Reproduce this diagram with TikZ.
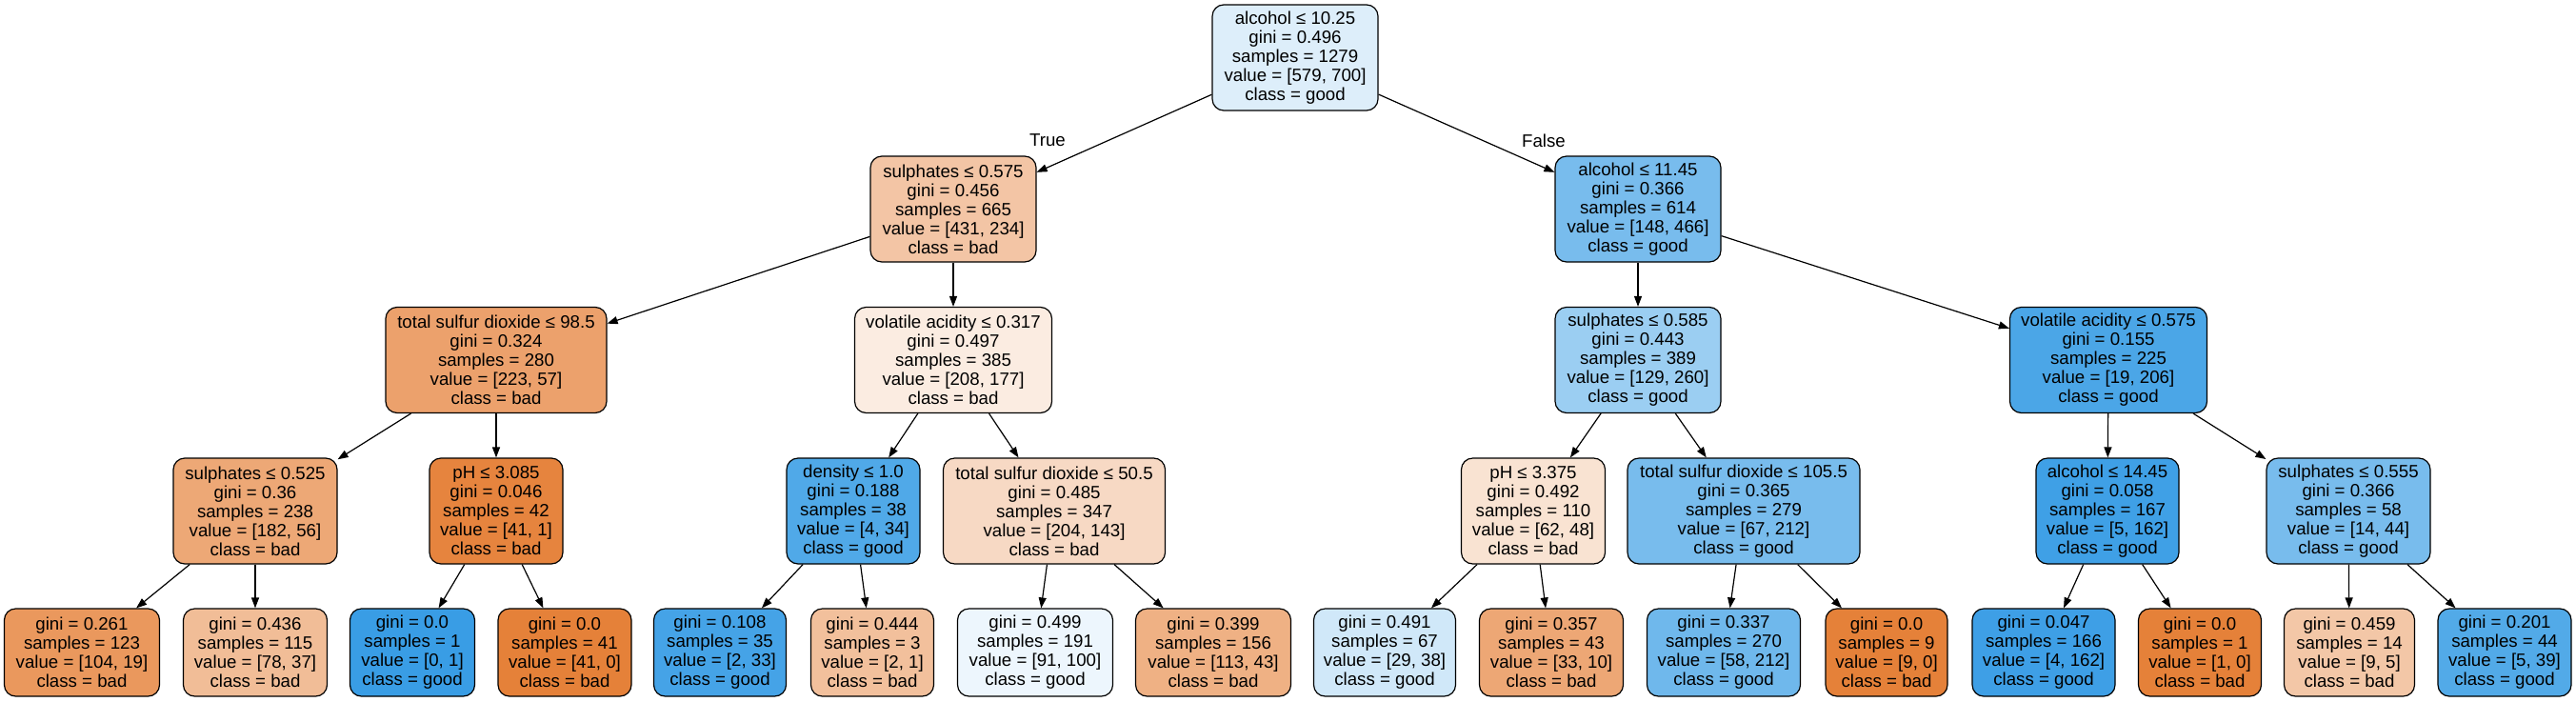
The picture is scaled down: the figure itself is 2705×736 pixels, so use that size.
\documentclass[tikz,border=0pt]{standalone}
\usepackage{fontspec}
\setmainfont{Liberation Sans}
\usetikzlibrary{arrows.meta}
\definecolor{bad}{RGB}{229,129,57}
\definecolor{good}{RGB}{57,157,229}
\tikzset{
  tbox/.style={draw=black, line width=1.2pt, rounded corners=12pt, align=center,
    inner xsep=4pt, inner ysep=0pt, text=black,
    font=\fontsize{18.67}{20}\selectfont},
  inode/.style={tbox, minimum height=111pt},
  leaf/.style={tbox, minimum height=92pt},
  edge/.style={line width=1.2pt, draw=black, -{Triangle[length=11pt,width=8pt]}},
  elabel/.style={font=\fontsize{18.67}{20}\selectfont, inner sep=0pt}
}
\begin{document}
\begin{tikzpicture}[x=1pt,y=-1pt]
\useasboundingbox (0,0) rectangle (2705,736);
\fill[white] (0,0) rectangle (2705,736);
% level 0
\node[inode, fill=good!17.3!white, minimum width=174pt] (n0) at (1360,60.5) {alcohol ≤ 10.25\\gini = 0.496\\samples = 1279\\value = [579, 700]\\class = good};
% level 1
\node[inode, fill=bad!45.7!white, minimum width=174pt] (s575) at (1001,219.5) {sulphates ≤ 0.575\\gini = 0.456\\samples = 665\\value = [431, 234]\\class = bad};
\node[inode, fill=good!68.2!white, minimum width=174pt] (a1145) at (1720,219.5) {alcohol ≤ 11.45\\gini = 0.366\\samples = 614\\value = [148, 466]\\class = good};
% level 2
\node[inode, fill=bad!74.4!white, minimum width=232pt] (tsd98) at (521,378) {total sulfur dioxide ≤ 98.5\\gini = 0.324\\samples = 280\\value = [223, 57]\\class = bad};
\node[inode, fill=bad!14.9!white, minimum width=207pt] (va317) at (1001,378) {volatile acidity ≤ 0.317\\gini = 0.497\\samples = 385\\value = [208, 177]\\class = bad};
\node[inode, fill=good!50.4!white, minimum width=174pt] (s585) at (1720,378) {sulphates ≤ 0.585\\gini = 0.443\\samples = 389\\value = [129, 260]\\class = good};
\node[inode, fill=good!90.8!white, minimum width=207pt] (va575) at (2214,378) {volatile acidity ≤ 0.575\\gini = 0.155\\samples = 225\\value = [19, 206]\\class = good};
% level 3
\node[inode, fill=bad!69.2!white, minimum width=172pt] (s525) at (268,536.5) {sulphates ≤ 0.525\\gini = 0.36\\samples = 238\\value = [182, 56]\\class = bad};
\node[inode, fill=bad!97.6!white, minimum width=140pt] (ph3085) at (521,536.5) {pH ≤ 3.085\\gini = 0.046\\samples = 42\\value = [41, 1]\\class = bad};
\node[inode, fill=good!88.2!white, minimum width=140pt] (dens) at (896,536.5) {density ≤ 1.0\\gini = 0.188\\samples = 38\\value = [4, 34]\\class = good};
\node[inode, fill=bad!29.9!white, minimum width=233pt] (tsd50) at (1107,536.5) {total sulfur dioxide ≤ 50.5\\gini = 0.485\\samples = 347\\value = [204, 143]\\class = bad};
\node[inode, fill=bad!22.6!white, minimum width=151pt] (ph3375) at (1610,536.5) {pH ≤ 3.375\\gini = 0.492\\samples = 110\\value = [62, 48]\\class = bad};
\node[inode, fill=good!68.4!white, minimum width=244pt] (tsd105) at (1831,536.5) {total sulfur dioxide ≤ 105.5\\gini = 0.365\\samples = 279\\value = [67, 212]\\class = good};
\node[inode, fill=good!96.9!white, minimum width=150pt] (a1445) at (2213,536.5) {alcohol ≤ 14.45\\gini = 0.058\\samples = 167\\value = [5, 162]\\class = good};
\node[inode, fill=good!68.2!white, minimum width=172pt] (s555) at (2466,536.5) {sulphates ≤ 0.555\\gini = 0.366\\samples = 58\\value = [14, 44]\\class = good};
% leaves
\node[leaf, fill=bad!81.7!white, minimum width=163pt] (l1) at (86,685) {gini = 0.261\\samples = 123\\value = [104, 19]\\class = bad};
\node[leaf, fill=bad!52.6!white, minimum width=151pt] (l2) at (268,685) {gini = 0.436\\samples = 115\\value = [78, 37]\\class = bad};
\node[leaf, fill=good, minimum width=131pt] (l3) at (433,685) {gini = 0.0\\samples = 1\\value = [0, 1]\\class = good};
\node[leaf, fill=bad, minimum width=140pt] (l4) at (593,685) {gini = 0.0\\samples = 41\\value = [41, 0]\\class = bad};
\node[leaf, fill=good!93.9!white, minimum width=139pt] (l5) at (756,685) {gini = 0.108\\samples = 35\\value = [2, 33]\\class = good};
\node[leaf, fill=bad!50!white, minimum width=129pt] (l6) at (916,685) {gini = 0.444\\samples = 3\\value = [2, 1]\\class = bad};
\node[leaf, fill=good!9!white, minimum width=163pt] (l7) at (1087,685) {gini = 0.499\\samples = 191\\value = [91, 100]\\class = good};
\node[leaf, fill=bad!61.9!white, minimum width=163pt] (l8) at (1274,685) {gini = 0.399\\samples = 156\\value = [113, 43]\\class = bad};
\node[leaf, fill=good!23.7!white, minimum width=149pt] (l9) at (1454,685) {gini = 0.491\\samples = 67\\value = [29, 38]\\class = good};
\node[leaf, fill=bad!69.7!white, minimum width=151pt] (l10) at (1629,685) {gini = 0.357\\samples = 43\\value = [33, 10]\\class = bad};
\node[leaf, fill=good!72.6!white, minimum width=161pt] (l11) at (1810,685) {gini = 0.337\\samples = 270\\value = [58, 212]\\class = good};
\node[leaf, fill=bad, minimum width=128pt] (l12) at (1981,685) {gini = 0.0\\samples = 9\\value = [9, 0]\\class = bad};
\node[leaf, fill=good!97.5!white, minimum width=150pt] (l13) at (2146,685) {gini = 0.047\\samples = 166\\value = [4, 162]\\class = good};
\node[leaf, fill=bad, minimum width=129pt] (l14) at (2310,685) {gini = 0.0\\samples = 1\\value = [1, 0]\\class = bad};
\node[leaf, fill=bad!44.4!white, minimum width=137pt] (l15) at (2467,685) {gini = 0.459\\samples = 14\\value = [9, 5]\\class = bad};
\node[leaf, fill=good!87.2!white, minimum width=140pt] (l16) at (2630,685) {gini = 0.201\\samples = 44\\value = [5, 39]\\class = good};
% edges
\draw[edge] (n0) -- (s575);
\draw[edge] (n0) -- (a1145);
\draw[edge] (s575) -- (tsd98);
\draw[edge] (s575) -- (va317);
\draw[edge] (a1145) -- (s585);
\draw[edge] (a1145) -- (va575);
\draw[edge] (tsd98) -- (s525);
\draw[edge] (tsd98) -- (ph3085);
\draw[edge] (va317) -- (dens);
\draw[edge] (va317) -- (tsd50);
\draw[edge] (s585) -- (ph3375);
\draw[edge] (s585) -- (tsd105);
\draw[edge] (va575) -- (a1445);
\draw[edge] (va575) -- (s555);
\draw[edge] (s525) -- (l1);
\draw[edge] (s525) -- (l2);
\draw[edge] (ph3085) -- (l3);
\draw[edge] (ph3085) -- (l4);
\draw[edge] (dens) -- (l5);
\draw[edge] (dens) -- (l6);
\draw[edge] (tsd50) -- (l7);
\draw[edge] (tsd50) -- (l8);
\draw[edge] (ph3375) -- (l9);
\draw[edge] (ph3375) -- (l10);
\draw[edge] (tsd105) -- (l11);
\draw[edge] (tsd105) -- (l12);
\draw[edge] (a1445) -- (l13);
\draw[edge] (a1445) -- (l14);
\draw[edge] (s555) -- (l15);
\draw[edge] (s555) -- (l16);
% edge labels
\node[elabel] (ltrue) at (1100,147) {True};
\node[elabel] (lfalse) at (1621,148) {False};
\end{tikzpicture}
\end{document}
